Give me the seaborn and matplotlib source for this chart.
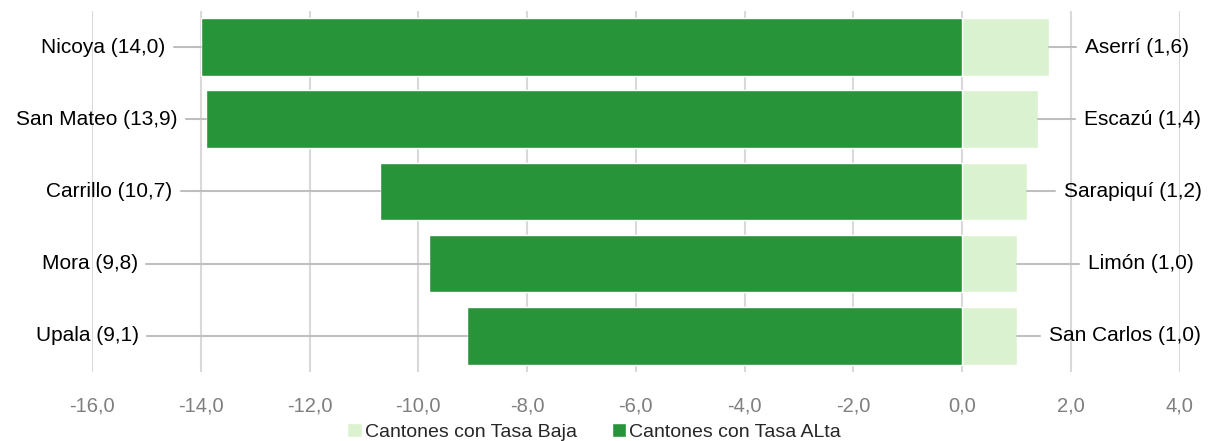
import matplotlib
matplotlib.use("Agg")
import matplotlib.pyplot as plt
from matplotlib.patches import Patch
import pandas as pd
import seaborn as sns

# datos
cantones_alta = ["Nicoya", "San Mateo", "Carrillo", "Mora", "Upala"]
tasa_alta = [14.0, 13.9, 10.7, 9.8, 9.1]
cantones_baja = ["Aserrí", "Escazú", "Sarapiquí", "Limón", "San Carlos"]
tasa_baja = [1.6, 1.4, 1.2, 1.0, 1.0]
ticks = [-16, -14, -12, -10, -8, -6, -4, -2, 0, 2, 4]

serie_baja = "Cantones con Tasa Baja"
serie_alta = "Cantones con Tasa ALta"
color_baja = "#daf2d0"
color_alta = "#28943a"

# posiciones de las etiquetas (como en el gráfico original)
pos_izq = [-14.65, -14.43, -14.52, -15.15, -15.13]
pos_der = [2.26, 2.24, 1.88, 2.32, 1.60]

filas = [str(i) for i in range(len(cantones_alta))]
df = pd.concat([
    pd.DataFrame({"fila": filas, "valor": tasa_baja, "serie": serie_baja}),
    pd.DataFrame({"fila": filas, "valor": [-v for v in tasa_alta], "serie": serie_alta}),
])

sns.set_style("white")
plt.rcParams["font.family"] = ["Liberation Sans", "DejaVu Sans"]

fig, ax = plt.subplots(figsize=(12.1, 4.41), dpi=100)
fig.subplots_adjust(left=0.076, right=0.975, top=0.975, bottom=0.157)

ax.set_axisbelow(True)
sns.barplot(data=df, x="valor", y="fila", hue="serie", dodge=False, width=0.8,
            palette={serie_baja: color_baja, serie_alta: color_alta},
            orient="h", legend=False, ax=ax, saturation=1)

ax.set_xlim(-16, 4)
ax.set_xticks(ticks)
ax.set_xticklabels([f"{t:.1f}".replace(".", ",") for t in ticks], fontsize=14.5, color="#7f7f7f")
ax.tick_params(axis="x", length=0, pad=18)
ax.set_yticks([])
ax.set_xlabel("")
ax.set_ylabel("")
ax.grid(axis="x", color="#d9d9d9", linewidth=1.5)
for s in ax.spines.values():
    s.set_visible(False)

# etiquetas con líneas guía
linea = dict(color="#bfbfbf", linewidth=1.5)
for i in range(len(cantones_alta)):
    txt = f"{cantones_alta[i]} ({tasa_alta[i]:.1f})".replace(".", ",")
    ax.text(pos_izq[i], i, txt, ha="right", va="center", fontsize=15, color="#000000")
    ax.plot([pos_izq[i] + 0.15, -tasa_alta[i]], [i, i], **linea)

    txt = f"{cantones_baja[i]} ({tasa_baja[i]:.1f})".replace(".", ",")
    ax.text(pos_der[i], i, txt, ha="left", va="center", fontsize=15, color="#000000")
    ax.plot([tasa_baja[i], pos_der[i] - 0.17], [i, i], **linea)

ax.set_ylim(4.5, -0.5)

handles = [Patch(facecolor=color_baja, label=serie_baja),
           Patch(facecolor=color_alta, label=serie_alta)]
fig.legend(handles=handles, loc="lower center", ncol=2, frameon=False,
           fontsize=14, bbox_to_anchor=(0.491, -0.04), handlelength=0.75,
           handleheight=0.75, handletextpad=0.15, columnspacing=1.8)

plt.savefig("out.png", dpi=100)
